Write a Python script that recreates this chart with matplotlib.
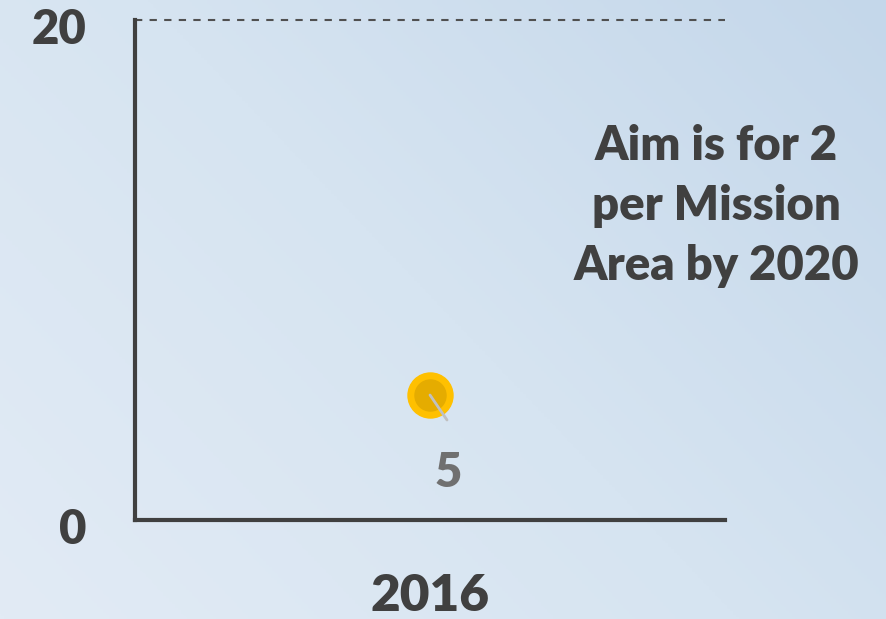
import numpy as np
import matplotlib
matplotlib.use('Agg')
import matplotlib.pyplot as plt
import matplotlib.transforms as mtrans
from matplotlib.colors import LinearSegmentedColormap

# --- DATA ---
years = ['2016']
values = [5]
y_ticks = [0, 20]
note = 'Aim is for 2\nper Mission\nArea by 2020'

DARK = '#404040'
FONT = 'Lato'
WEIGHT = 'heavy'

fig = plt.figure(figsize=(8.87, 6.19), dpi=100)

# background gradient (lighter bottom-left, bluer top-right)
bg = fig.add_axes([0, 0, 1, 1], zorder=-1)
gx, gy = np.meshgrid(np.linspace(0, 1, 300), np.linspace(0, 1, 300))
grad = (gx * 0.6 + gy * 0.4)
cmap = LinearSegmentedColormap.from_list('bg', ['#e2ebf5', '#d6e4f1', '#c4d7ea'])
bg.imshow(grad, cmap=cmap, origin='lower', aspect='auto', extent=[0, 1, 0, 1])
bg.axis('off')

ax = fig.add_axes([135 / 887, 99 / 619, 590 / 887, 500 / 619])
ax.set_facecolor('none')
ax.set_xlim(-0.5, len(years) - 0.5)
ax.set_ylim(y_ticks[0], y_ticks[-1])

for s in ['top', 'right']:
    ax.spines[s].set_visible(False)
for s in ['left', 'bottom']:
    ax.spines[s].set_color(DARK)
    ax.spines[s].set_linewidth(3)

ax.axhline(y_ticks[-1], color='#505050', linestyle=(0, (3.5, 3.5)), linewidth=1.5,
           clip_on=False)

ax.set_yticks(y_ticks)
ax.set_yticklabels([str(t) for t in y_ticks], fontsize=34, fontweight=WEIGHT,
                   color=DARK, family=FONT)
ax.set_xticks(range(len(years)))
ax.set_xticklabels(years, fontsize=37, fontweight=WEIGHT, color=DARK, family=FONT)
ax.tick_params(axis='y', length=0, pad=35)
ax.tick_params(axis='x', length=0, pad=38)
# nudge tick labels slightly down, as in the original
off = mtrans.ScaledTranslation(0, -6 / 100, fig.dpi_scale_trans)
for lbl in ax.get_yticklabels():
    lbl.set_transform(lbl.get_transform() + off)

xs = np.arange(len(years))
ax.scatter(xs, values, s=1050, color='#ffc000', zorder=3)
ax.scatter(xs, values, s=500, color='#e5ac00', zorder=4)

for x, v in zip(xs, values):
    ax.annotate('', xy=(x, v), xytext=(17, -25), textcoords='offset pixels',
                arrowprops=dict(arrowstyle='-', color='#c0c0c0', lw=2,
                                shrinkA=0, shrinkB=0), zorder=5)
    ax.annotate(str(v), xy=(x, v), xytext=(18, -78), textcoords='offset pixels',
                ha='center', va='center', fontsize=34, fontweight=WEIGHT,
                color='#707070', family=FONT)

fig.text(716 / 887, 1 - 206 / 619, note, ha='center', va='center',
         fontsize=34, fontweight=WEIGHT, color=DARK, family=FONT,
         linespacing=1.45)

fig.savefig('out.png', dpi=100)
